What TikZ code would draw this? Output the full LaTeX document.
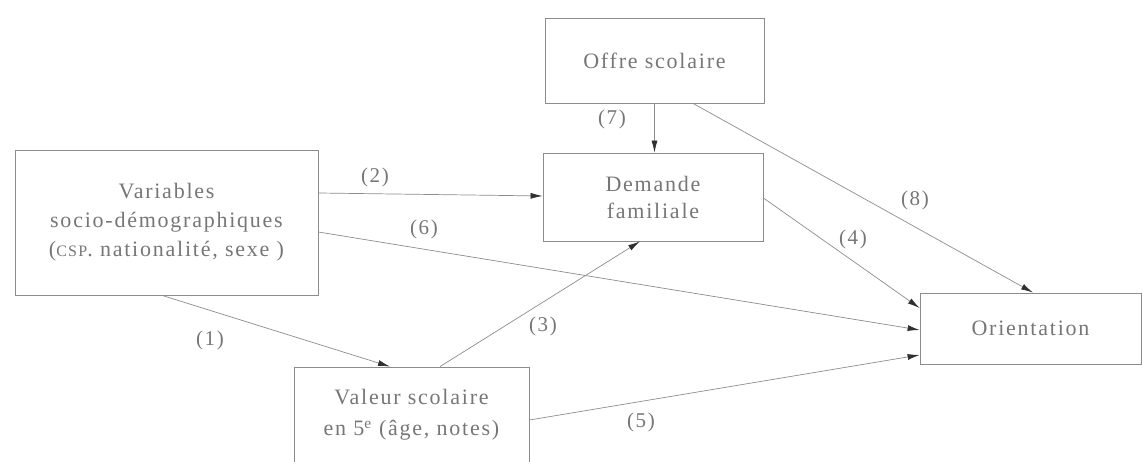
\documentclass[tikz,border=0pt]{standalone}
\usepackage{fontspec}
\setmainfont[LetterSpace=8]{Liberation Serif}
\usetikzlibrary{arrows.meta}
\definecolor{txt}{HTML}{767676}
\definecolor{ln}{HTML}{8C8C8C}
\definecolor{tip}{HTML}{303030}
\begin{document}
\begin{tikzpicture}[x=1pt,y=1pt,
  box/.style={draw=ln,line width=0.8pt,rectangle,inner sep=0pt,text=txt,align=center,font=\fontsize{22}{29}\selectfont},
  conn/.style={draw=ln,line width=0.7pt,-{Latex[length=12pt,width=6pt,fill=tip,color=tip]}},
  lbl/.style={text=txt,font=\fontsize{21}{24}\selectfont,inner sep=0pt}]
\useasboundingbox (0,0) rectangle (1143,462);
\clip (0,0) rectangle (1143,462);
\node[box,minimum width=303pt,minimum height=145pt] (var) at (166.5,239.5)
  {Variables\\socio-démographiques\\({\fontsize{16}{16}\selectfont CSP}. nationalité, sexe )};
\node[box,minimum width=219pt,minimum height=85pt] (offre) at (654.5,401.5) {Offre scolaire};
\node[box,minimum width=220pt,minimum height=88pt,font=\fontsize{22}{27}\selectfont] (dem) at (653,265) {Demande\\familiale};
\node[box,minimum width=221pt,minimum height=71pt] (ori) at (1030.5,133.5) {Orientation};
\node[box,minimum width=235pt,minimum height=113pt] (val) at (411.5,38.5) {};
\node[text=txt,align=center,font=\fontsize{22}{31}\selectfont,inner sep=0pt] (valt) at (411.5,47)
  {Valeur scolaire\\en 5\textsuperscript{e} (âge, notes)};
\draw[conn] ([yshift=29.5pt]var.east) -- ([yshift=1pt]dem.west);
\draw[conn] ([yshift=-9.5pt]var.east) -- ([yshift=-1.5pt]ori.west);
\draw[conn] ([xshift=-4.5pt]var.south) -- ([xshift=-21.5pt]val.north);
\draw[conn] ([xshift=28.5pt]val.north) -- ([xshift=-13pt]dem.south);
\draw[conn] ([yshift=3.5pt]val.east) -- ([yshift=-26.5pt]ori.west);
\draw[conn] ([yshift=-1pt]dem.east) -- ([yshift=20.5pt]ori.west);
\draw[conn] (offre.south) -- (offre.south |- dem.north);
\draw[conn] ([xshift=38.5pt]offre.south) -- ([xshift=2.5pt]ori.north);
\node[lbl] (l7) at (612,343) {(7)};
\node[lbl] (l2) at (375,285) {(2)};
\node[lbl] (l6) at (424,233) {(6)};
\node[lbl] (l8) at (915,262) {(8)};
\node[lbl] (l4) at (853,223) {(4)};
\node[lbl] (l1) at (210,122) {(1)};
\node[lbl] (l3) at (543,136) {(3)};
\node[lbl] (l5) at (641,40) {(5)};
\end{tikzpicture}
\end{document}
